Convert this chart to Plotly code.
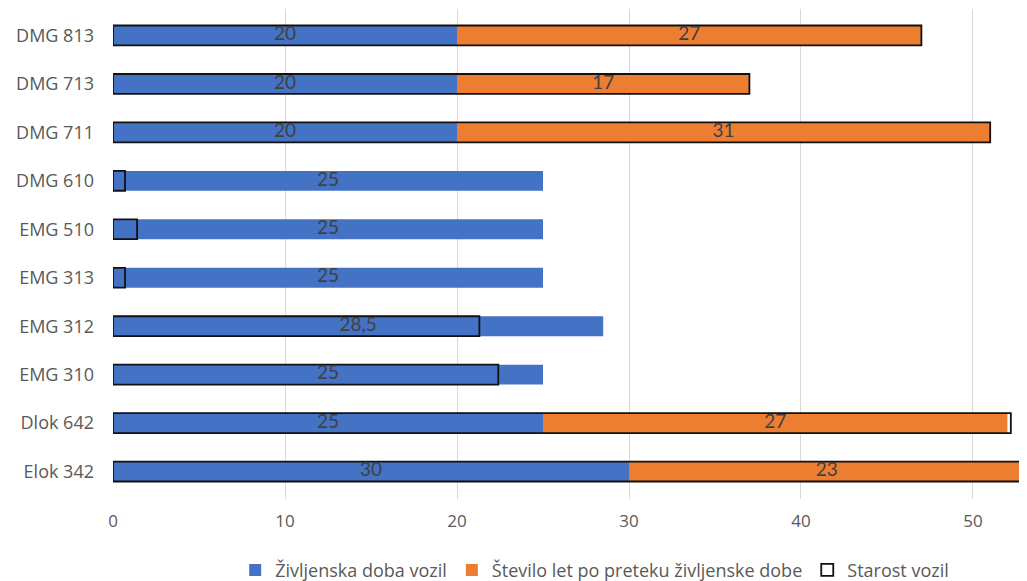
import plotly.graph_objects as go

categories = ["Elok 342", "Dlok 642", "EMG 310", "EMG 312", "EMG 313",
              "EMG 510", "DMG 610", "DMG 711", "DMG 713", "DMG 813"]
life_span = [30, 25, 25, 28.5, 25, 25, 25, 20, 20, 20]
over_life = [23, 27, 0, 0, 0, 0, 0, 31, 17, 27]
vehicle_age = [53, 52.2, 22.4, 21.3, 0.7, 1.4, 0.7, 51, 37, 47]

life_text = [f"{v:g}".replace(".", ",") for v in life_span]
over_text = [f"{v:g}" if v > 0 else "" for v in over_life]
life_mid = [v / 2 for v in life_span]
over_mid = [l + o / 2 for l, o in zip(life_span, over_life)]

BLUE = "#4472C4"
ORANGE = "#ED7D31"
FONT = "Open Sans, Lato, sans-serif"
LFONT = "Lato, Open Sans, sans-serif"
LABEL = "#404040"
AXIS = "#595959"
W = 0.41

fig = go.Figure()
fig.add_trace(go.Bar(
    y=categories, x=life_span, orientation="h", name="Življenska doba vozil",
    marker=dict(color=BLUE, line=dict(width=0)), width=W,
))
fig.add_trace(go.Bar(
    y=categories, x=over_life, base=life_span, orientation="h",
    name="Število let po preteku življenske dobe",
    marker=dict(color=ORANGE, line=dict(width=0)), width=W,
))
fig.add_trace(go.Bar(
    y=categories, x=vehicle_age, orientation="h", name="Starost vozil",
    marker=dict(color="rgba(255,255,255,0)", line=dict(color="#111111", width=1.8)),
    width=W,
))
fig.add_trace(go.Scatter(
    y=categories, x=life_mid, mode="text", text=life_text, showlegend=False,
    textposition="middle center", hoverinfo="skip",
    textfont=dict(color=LABEL, size=19, family=LFONT),
))
fig.add_trace(go.Scatter(
    y=categories, x=over_mid, mode="text", text=over_text, showlegend=False,
    textposition="middle center", hoverinfo="skip",
    textfont=dict(color=LABEL, size=19, family=LFONT),
))

fig.update_layout(
    width=1027, height=581,
    barmode="overlay",
    paper_bgcolor="white", plot_bgcolor="white",
    margin=dict(l=105, r=8, t=1, b=89),
    font=dict(family=FONT, color=AXIS, size=16),
    legend=dict(orientation="h", x=0.527, xanchor="center", y=-0.143, yanchor="middle",
                font=dict(size=18, color=AXIS, family=FONT), traceorder="normal"),
    showlegend=True,
)
fig.update_xaxes(range=[0, 53.14], dtick=10, showgrid=True, gridcolor="#D9D9D9",
                 gridwidth=1, zeroline=False, showline=False, automargin=False,
                 tickfont=dict(size=17, color=AXIS), ticks="", ticklabelstandoff=10)
fig.update_yaxes(range=[-0.566, 9.546], showgrid=False, zeroline=False, showline=False,
                 automargin=False,
                 tickfont=dict(size=18, color=AXIS), ticks="", ticklabelstandoff=18)

fig.write_html("out.html")
